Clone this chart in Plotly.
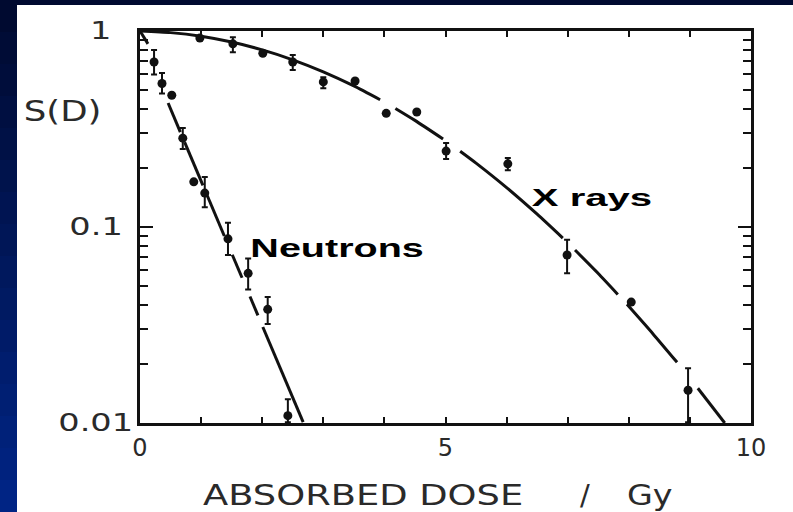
import math
import json
import plotly.graph_objects as go

# ---------------- data ----------------
# Neutron survival measurements (dose in Gy, surviving fraction, error-bar bounds)
neutron_dose = [0.23, 0.36, 0.52, 0.70, 0.88, 1.06, 1.44, 1.77, 2.09, 2.42]
neutron_surv = [0.695, 0.54, 0.47, 0.284, 0.17, 0.149, 0.087, 0.058, 0.038, 0.0109]
neutron_hi = [0.80, 0.61, None, 0.32, None, 0.18, 0.105, 0.069, 0.044, 0.0132]
neutron_lo = [0.60, 0.48, None, 0.25, None, 0.126, 0.072, 0.048, 0.032, 0.0101]

# X-ray survival measurements
xray_dose = [0.98, 1.52, 2.01, 2.50, 3.00, 3.52, 4.03, 4.53, 5.01, 6.02, 6.99, 8.04, 8.97]
xray_surv = [0.92, 0.86, 0.77, 0.695, 0.55, 0.556, 0.38, 0.386, 0.244, 0.21, 0.072, 0.0414, 0.0147]
xray_hi = [None, 0.93, None, 0.754, 0.58, None, None, None, 0.268, 0.225, 0.086, None, 0.019]
xray_lo = [None, 0.78, None, 0.632, 0.51, None, None, None, 0.222, 0.195, 0.058, None, 0.0101]

# Fitted survival curves, drawn as broken segments (None = gap around a data point)
neutron_fit_dose = [0.0, 0.13, None, 0.46, 0.66, None, 0.73, 1.03, None, 1.10, 1.38, None,
                    1.51, 1.67, None, 1.80, 1.93, None, 2.01, 2.67]
neutron_fit_surv = [1.0, 0.86, None, 0.429, 0.305, None, 0.271, 0.163, None, 0.1448, 0.090, None,
                    0.0722, 0.0551, None, 0.0442, 0.0354, None, 0.0309, 0.0101]

xray_fit_dose = [0.0, 0.5, 1.0, 1.5, 2.0, 2.5, 3.0, 3.5, 3.93, None,
                 4.18, 4.5, 4.96, None,
                 5.24, 5.5, 6.0, 6.5, 6.92, None,
                 7.12, 7.5, 7.82, None,
                 7.97, 8.4, 8.79, None,
                 9.13, 9.57]
xray_fit_surv = [1.0, 0.981, 0.940, 0.878, 0.801, 0.713, 0.619, 0.5246, 0.4461, None,
                 0.4027, 0.350, 0.2812, None,
                 0.2436, 0.2119, 0.1589, 0.1162, 0.0878, None,
                 0.0763, 0.0579, 0.0453, None,
                 0.0403, 0.0284, 0.0204, None,
                 0.01504, 0.0100]

# Axis ticks and labels
x_tick_vals = [0, 1, 2, 3, 4, 5, 6, 7, 8, 9, 10]
x_tick_text = ["0", "", "", "", "", "5", "", "", "", "", "10"]
y_tick_vals = [1, 0.1, 0.01]
y_tick_text = ["1", "0.1", "0.01"]

x_title = "ABSORBED DOSE"
x_unit_sep = "/"
x_unit = "Gy"
y_title = "S(D)"
label_neutrons = "Neutrons"
label_xrays = "X rays"

# ---------------- layout geometry ----------------
W, H = 793, 512
L, R, T, B = 140, 42, 31, 89
PW, PH = W - L - R, H - T - B


def px_x(X):
    return (X - L) / PW


def px_y(Y):
    return (H - B - Y) / PH


def bars(vals, hi, lo):
    plus = [(h - v) if h is not None else 0 for v, h in zip(vals, hi)]
    minus = [(v - l) if l is not None else 0 for v, l in zip(vals, lo)]
    return plus, minus


ink = "#111111"
label_font = dict(family="DejaVu Sans", size=24, color="#2a2a2a")

fig = go.Figure()

# fitted curves
fig.add_trace(go.Scatter(x=neutron_fit_dose, y=neutron_fit_surv, mode="lines",
                         line=dict(color=ink, width=3), connectgaps=False,
                         hoverinfo="skip", showlegend=False))
fig.add_trace(go.Scatter(x=xray_fit_dose, y=xray_fit_surv, mode="lines",
                         line=dict(color=ink, width=3, shape="spline", smoothing=0.6),
                         connectgaps=False, hoverinfo="skip", showlegend=False))

# measured points with error bars
for dose, surv, hi, lo in [(neutron_dose, neutron_surv, neutron_hi, neutron_lo),
                           (xray_dose, xray_surv, xray_hi, xray_lo)]:
    plus, minus = bars(surv, hi, lo)
    fig.add_trace(go.Scatter(
        x=dose, y=surv, mode="markers",
        marker=dict(color=ink, size=9, symbol="circle"),
        error_y=dict(type="data", symmetric=False, array=plus, arrayminus=minus,
                     color=ink, thickness=2, width=3),
        showlegend=False))

axis_common = dict(showline=True, linecolor=ink, linewidth=2.5, mirror="allticks",
                   showgrid=False, zeroline=False, ticks="inside", tickcolor=ink,
                   tickwidth=2)

fig.update_xaxes(range=[0, 10], tickmode="array", tickvals=x_tick_vals,
                 ticktext=x_tick_text, ticklen=6, tickfont=label_font,
                 ticklabelstandoff=1, **axis_common)
fig.update_yaxes(type="log", range=[-2, 0], tickmode="array", tickvals=y_tick_vals,
                 ticklen=13, showticklabels=False,
                 minor=dict(ticks="inside", ticklen=8, tickcolor=ink, tickwidth=2,
                            dtick="D1", showgrid=False),
                 **axis_common)

# Each annotation: (text, centre x px, centre y px, font, horizontal stretch)
title_font = dict(family="DejaVu Sans", size=29, color="#2a2a2a")
neutron_font = dict(family="Liberation Sans", size=26, color="#000000", weight="bold")
xray_font = dict(family="Liberation Sans", size=24, color="#000000", weight="bold")
text_items = []
for val, txt, cx in zip(y_tick_vals, y_tick_text, [100, 95.5, 95.5]):
    cy = T + (0 - math.log10(val)) * PH / 2
    text_items.append((txt, cx, cy, label_font, 1.4))
text_items += [
    (y_title, 62.5, 111, dict(family="DejaVu Sans", size=28, color="#2a2a2a"), 1.27),
    (x_title, 363, 495, title_font, 1.27),
    (x_unit_sep, 585, 495, title_font, 1.0),
    (x_unit, 649.5, 495, title_font, 1.15),
    (label_neutrons, 336.5, 248, neutron_font, 1.52),
    (label_xrays, 592, 197, xray_font, 1.67),
]

annotations = []
stretch = {}
for i, (txt, cx, cy, font, sx) in enumerate(text_items):
    annotations.append(dict(x=px_x(cx), y=px_y(cy), xref="paper", yref="paper", text=txt,
                            showarrow=False, xanchor="center", yanchor="middle", font=font))
    if sx != 1.0:
        stretch[i] = sx

# slide backdrop: dark blue strips along the top and left edges
shapes = []
n_bands = 16
top_c, bot_c = (0, 10, 48), (0, 36, 132)
for i in range(n_bands):
    t = i / (n_bands - 1)
    c = tuple(round(a + (b - a) * t) for a, b in zip(top_c, bot_c))
    y0 = H * i / n_bands
    y1 = H * (i + 1) / n_bands + 1
    shapes.append(dict(type="rect", xref="paper", yref="paper", layer="below",
                       x0=px_x(0), x1=px_x(17), y0=px_y(y1), y1=px_y(y0),
                       fillcolor="rgb(%d,%d,%d)" % c, line=dict(width=0)))
shapes.append(dict(type="rect", xref="paper", yref="paper", layer="below",
                   x0=px_x(0), x1=px_x(W), y0=px_y(5), y1=px_y(0),
                   fillcolor="rgb(0,10,48)", line=dict(width=0)))

fig.update_layout(width=W, height=H, autosize=False,
                  margin=dict(l=L, r=R, t=T, b=B),
                  paper_bgcolor="white", plot_bgcolor="white",
                  annotations=annotations, shapes=shapes, showlegend=False)

# widen the lettering of selected annotations (stretched plotter-style type)
post_js = """
var gd = document.getElementById('{plot_id}');
var f = %s;
Object.keys(f).forEach(function (i) {
  var t = gd.querySelector('g.annotation[data-index="' + i + '"] text.annotation-text');
  if (t) {
    t.style.transformBox = 'fill-box';
    t.style.transformOrigin = 'center';
    t.style.transform = 'scaleX(' + f[i] + ')';
  }
});
""" % json.dumps({str(k): v for k, v in stretch.items()})

fig.write_html("out.html", post_script=post_js)
